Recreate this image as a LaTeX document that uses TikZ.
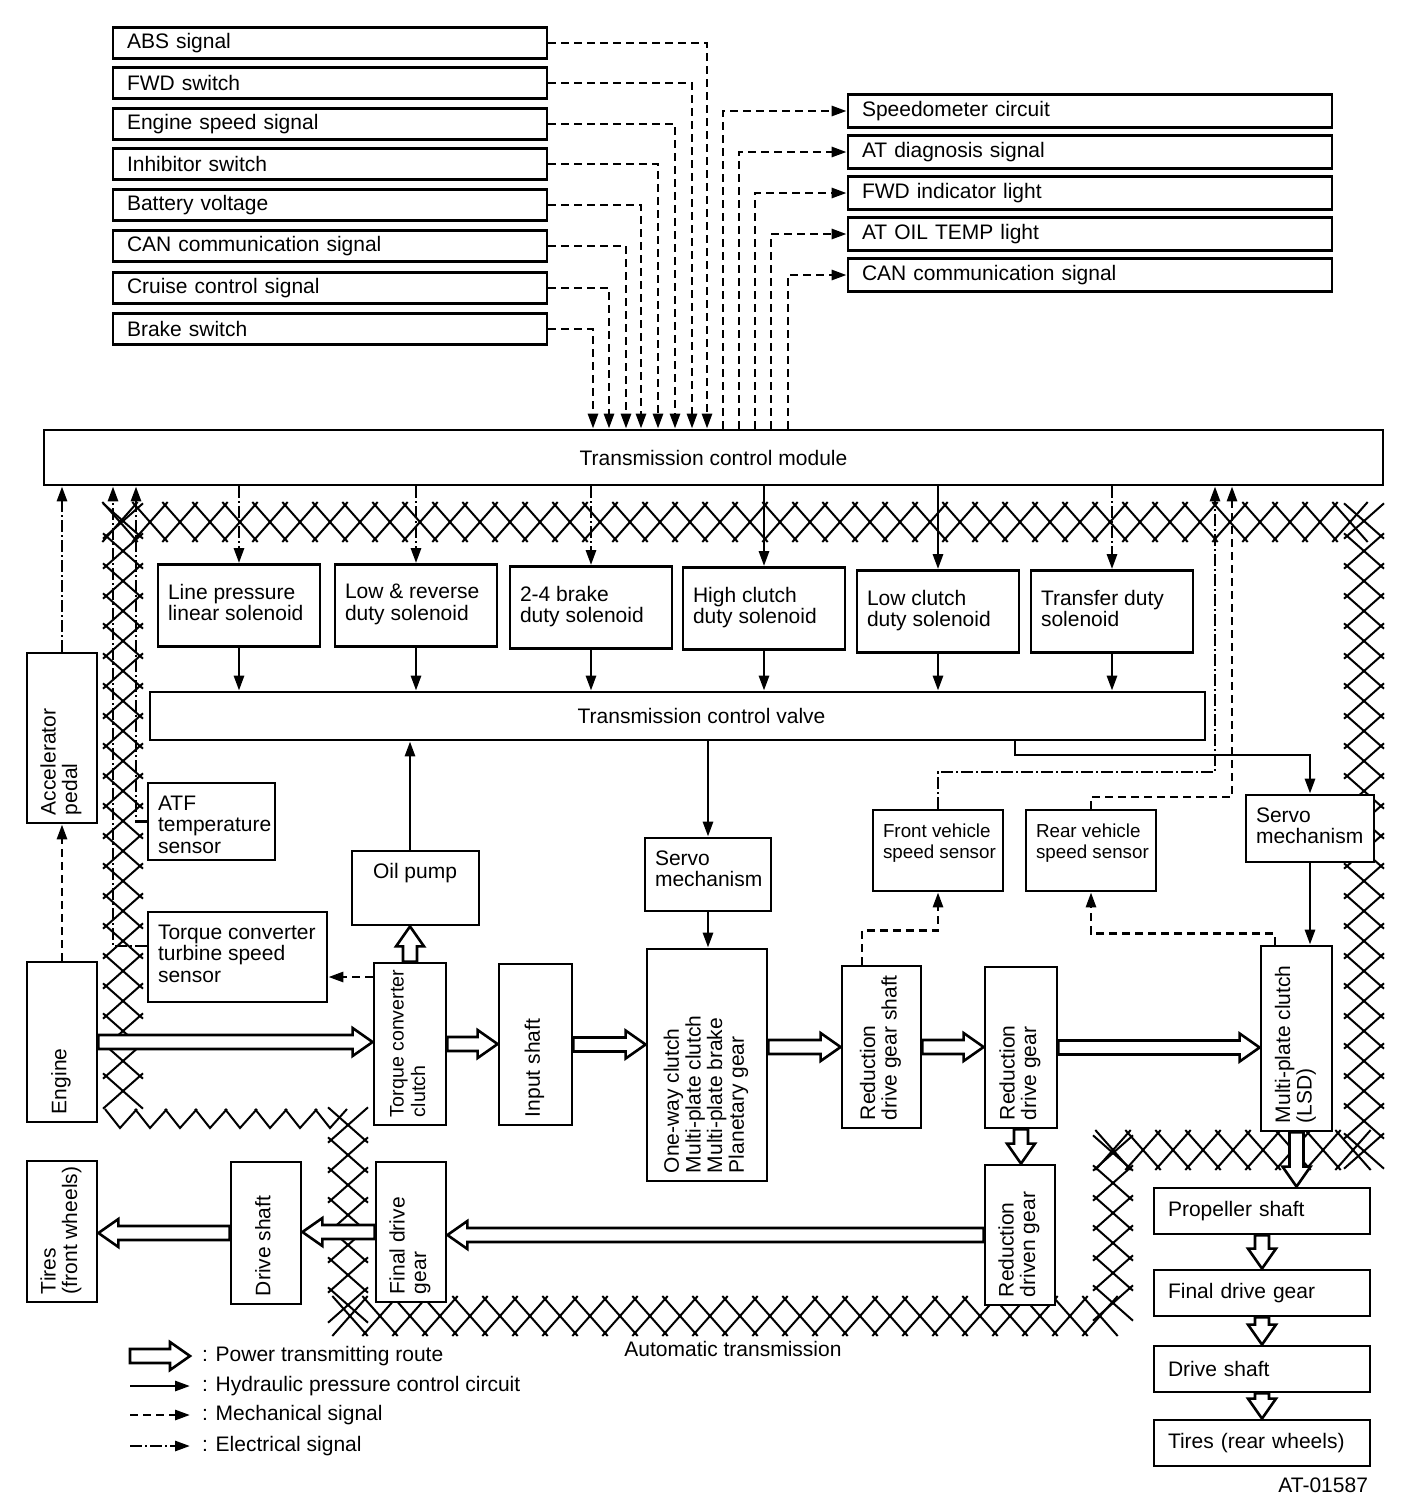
\documentclass[tikz,border=0pt]{standalone}
\usepackage{fontspec}
\setmainfont{Liberation Sans}
\usetikzlibrary{arrows.meta, calc}

\newcommand{\htext}[4][t]{\parbox[c][\dimexpr#3pt/2-12pt\relax][#1]{\dimexpr#2pt/2-10pt\relax}{\begin{tabular}{@{}l@{}}#4\end{tabular}}}
\newcommand{\vtext}[3]{\rotatebox{90}{\parbox[c][\dimexpr#1pt/2-8pt\relax][c]{\dimexpr#2pt/2-8pt\relax}{\begin{tabular}{@{}l@{}}#3\end{tabular}}}}
\newcommand{\powerarrow}[2]{%
  \path (#1) coordinate (pa) (#2) coordinate (pb);
  \path ($(pb)!10pt!(pa)$) coordinate (pn);
  \filldraw[power] ($(pa)!3.5pt!90:(pb)$) -- ($(pn)!3.5pt!-90:(pa)$)
    -- ($(pn)!7pt!-90:(pa)$) -- (pb) -- ($(pn)!7pt!90:(pa)$)
    -- ($(pn)!3.5pt!90:(pa)$) -- ($(pa)!3.5pt!-90:(pb)$) -- cycle;}
% crossed band of the housing: start, count, position
\newcommand{\hband}[3]{%
  \foreach \i in {0,...,#2}
    \draw[hatch] ({#1+30*\i-2.7},#3-20) -- ({#1+30*\i+32.7},#3+20)
                 ({#1+30*\i-2.7},#3+20) -- ({#1+30*\i+32.7},#3-20);}
\newcommand{\vband}[3]{%
  \foreach \i in {0,...,#2}
    \draw[hatch] (#3-20,{#1+30*\i-2.7}) -- (#3+20,{#1+30*\i+32.7})
                 (#3+20,{#1+30*\i-2.7}) -- (#3-20,{#1+30*\i+32.7});}

\tikzset{
  tbox/.style={draw, line width=1.4pt, fill=white, inner xsep=5pt, inner ysep=6pt},
  vbox/.style={tbox, inner sep=4pt},
  sensorfont/.style={font=\fontsize{9.4}{10.8}\selectfont},
  insig/.style={tbox, text width=203pt, minimum height=15.5pt, inner xsep=7pt, inner ysep=1pt, align=left},
  outsig/.style={insig, text width=228pt, minimum height=16.5pt},
  chainbox/.style={insig, text width=94pt, minimum height=23pt},
  hyd/.style={line width=1.4pt, ->},
  mech/.style={hyd, dash pattern=on 4pt off 2.5pt},
  elec/.style={hyd, dash pattern=on 6pt off 1.5pt on 1pt off 1.5pt},
  power/.style={draw, line width=1.3pt, fill=white, line join=miter},
  hatch/.style={line width=1pt},
}

\begin{document}
\begin{tikzpicture}[x=0.5pt, y=-0.5pt, font=\fontsize{10.5}{10.8}\selectfont, >={Triangle[length=7.5pt,width=5pt]}]
  \useasboundingbox (0,0) rectangle (1408,1500);

  % housing of the automatic transmission
  \hband{105}{41}{522}
  \hband{335}{25}{1316}
  \hband{1098}{8}{1150}
  \vband{506}{19}{123}
  \vband{1110}{6}{348}
  \vband{1138}{5}{1113}
  \vband{506}{21}{1364}
  \foreach \i in {0,...,7}
    \draw[hatch] ({105+30*\i},1109) -- ({120+30*\i},1128) -- ({137+30*\i},1109);

  % inputs and outputs of the control module
  \foreach \n/\y/\t in {1/43/ABS signal, 2/83/FWD switch, 3/124/Engine speed signal, 4/164/Inhibitor switch,
      5/205/Battery voltage, 6/246/CAN communication signal, 7/288/Cruise control signal, 8/329/Brake switch}
    \node[insig] (in\n) at (330,\y) {\t};
  \foreach \n/\y/\t in {1/111/Speedometer circuit, 2/152/AT diagnosis signal, 3/193/FWD indicator light,
      4/234/AT OIL TEMP light, 5/275/CAN communication signal}
    \node[outsig] (out\n) at (1090,\y) {\t};

  \node[tbox, minimum width=669.5pt, minimum height=27.5pt] (tcm) at (713.5,457.5) {Transmission control module};
  \node[tbox, minimum width=527.5pt, minimum height=24pt] (valve) at (677.5,716) {\hspace*{24pt}Transmission control valve};

  \foreach \n/\x/\y/\t in {1/239/605.5/{Line pressure\\linear solenoid}, 2/416/605.5/{Low \& reverse\\duty solenoid},
      3/591/607.5/{2-4 brake\\duty solenoid}, 4/764/608.5/{High clutch\\duty solenoid},
      5/938/611.5/{Low clutch\\duty solenoid}, 6/1112/611.5/{Transfer duty\\solenoid}}
    \node[tbox] (sol\n) at (\x,\y) {\htext[c]{162}{82}{\t}};

  \node[vbox] (acc) at (62,738) {\vtext{70}{170}{Accelerator\\pedal}};
  \node[vbox] (engine) at (62,1042) {\vtext{70}{160}{Engine}};
  \node[tbox] (atf) at (211.5,821.5) {\htext{127}{77}{ATF\\temperature\\sensor}};
  \node[tbox] (tts) at (237.5,957) {\htext{179}{90}{Torque converter\\turbine speed\\sensor}};
  \node[tbox] (pump) at (415.5,888) {\htext{127}{74}{\hspace*{5.5pt}Oil pump}};
  \node[tbox] (servo1) at (708,874.5) {\htext{126}{73}{Servo\\mechanism}};
  \node[tbox, sensorfont] (fvss) at (938,850.5) {\htext{130}{81}{Front vehicle\\speed sensor}};
  \node[tbox, sensorfont] (rvss) at (1091,850.5) {\htext{130}{81}{Rear vehicle\\speed sensor}};
  \node[tbox] (servo2) at (1310,828.5) {\htext{128}{67}{Servo\\mechanism}};

  \node[vbox, font=\fontsize{9.8}{10.8}\selectfont] (tcc) at (410,1044) {\vtext{72}{162}{Torque converter\\clutch}};
  \node[vbox] (input) at (535.5,1044.5) {\vtext{73}{161}{Input shaft}};
  \node[vbox] (planet) at (707,1065) {\vtext{120}{232}{One-way clutch\\Multi-plate clutch\\Multi-plate brake\\Planetary gear}};
  \node[vbox] (rdgs) at (881.5,1047) {\vtext{79}{162}{Reduction\\drive gear shaft}};
  \node[vbox] (rdg) at (1021,1047.5) {\vtext{72}{161}{Reduction\\drive gear}};
  \node[vbox] (lsd) at (1296.5,1038.5) {\vtext{71}{185}{Multi-plate clutch\\(LSD)}};
  \node[vbox] (rdng) at (1020,1235) {\vtext{70}{140}{Reduction\\driven gear}};
  \node[vbox] (fdgl) at (411,1232) {\vtext{70}{140}{Final drive\\gear}};
  \node[vbox] (dsl) at (266,1233) {\vtext{70}{142}{Drive shaft}};
  \node[vbox] (tiresf) at (62,1231.5) {\vtext{70}{141}{Tires\\(front wheels)}};

  \node[chainbox] (prop) at (1262,1211) {Propeller shaft};
  \node[chainbox] (fdgr) at (1262,1293) {Final drive gear};
  \node[chainbox] (dsr) at (1262,1369) {Drive shaft};
  \node[chainbox] (tiresr) at (1262,1443) {Tires (rear wheels)};

  % signal lines
  \foreach \n/\x in {1/707, 2/692, 3/675, 4/658, 5/641, 6/626, 7/609, 8/593}
    \draw[mech] (in\n.east) -| (\x,0 |- tcm.north);
  \foreach \n/\x in {1/723, 2/739, 3/755, 4/771, 5/788}
    \draw[mech] (\x,0 |- tcm.north) |- (out\n.west);
  \foreach \n/\s in {1/elec, 2/elec, 3/elec, 4/hyd, 5/hyd, 6/elec}
    \draw[\s] (tcm.south -| sol\n.north) -- (sol\n.north);
  \foreach \n in {1,...,6}
    \draw[hyd] (sol\n.south) -- (sol\n.south |- valve.north);

  \draw[elec] (acc.north) -- (acc.north |- tcm.south);
  \draw[mech] (engine.north) -- (acc.south);
  \draw[elec] (atf.west) -| (136,0 |- tcm.south);
  \draw[elec] ($(tts.west)+(0,-11)$) -| (113,0 |- tcm.south);
  \draw[mech] (tcc.west |- 0,977) -- (tts.east |- 0,977);

  \draw[hyd] (tcc.north |- pump.north) -- (tcc.north |- valve.south);
  \draw[hyd] (valve.south -| servo1.north) -- (servo1.north);
  \draw[hyd] (servo1.south) -- (servo1.south |- planet.north);
  \draw[hyd] (1015,0 |- valve.south) |- (servo2.north |- 0,755) -- (servo2.north);
  \draw[hyd] (servo2.south) -- (servo2.south |- lsd.north);

  \draw[elec] (fvss.north) |- (1215,772) -- (1215,0 |- tcm.south);
  \draw[mech] (rvss.north) |- (1232,797) -- (1232,0 |- tcm.south);
  \draw[mech] (862,0 |- rdgs.north) |- ($(fvss.south)+(0,38)$) -- (fvss.south);
  \draw[mech] (1275,0 |- lsd.north) |- ($(rvss.south)+(0,41)$) -- (rvss.south);

  % power flow
  \powerarrow{engine.east}{engine.east -| tcc.west}
  \powerarrow{tcc.east}{tcc.east -| input.west}
  \powerarrow{input.east}{input.east -| planet.west}
  \powerarrow{planet.east |- rdgs.west}{rdgs.west}
  \powerarrow{rdgs.east}{rdgs.east -| rdg.west}
  \powerarrow{rdg.east}{rdg.east -| lsd.west}
  \powerarrow{rdg.south}{rdg.south |- rdng.north}
  \powerarrow{rdng.west}{rdng.west -| fdgl.east}
  \powerarrow{fdgl.west}{fdgl.west -| dsl.east}
  \powerarrow{dsl.west}{dsl.west -| tiresf.east}
  \powerarrow{tcc.north}{tcc.north |- pump.south}
  \powerarrow{lsd.south}{lsd.south |- prop.north}
  \powerarrow{prop.south}{fdgr.north}
  \powerarrow{fdgr.south}{dsr.north}
  \powerarrow{dsr.south}{tiresr.north}

  % legend
  \coordinate (lega1) at (130,1356);
  \coordinate (legb1) at (190,1356);
  \powerarrow{lega1}{legb1}
  \foreach \n/\y/\s in {2/1386/hyd, 3/1415/mech, 4/1446/elec} {
    \coordinate (lega\n) at (130,\y);
    \coordinate (legb\n) at (190,\y);
    \draw[\s] (lega\n) -- (legb\n);
  }
  \node[anchor=west] (legt1) at (195,1356) {: Power transmitting route};
  \node[anchor=west] (legt2) at (195,1386) {: Hydraulic pressure control circuit};
  \node[anchor=west] (legt3) at (195,1415) {: Mechanical signal};
  \node[anchor=west] (legt4) at (195,1446) {: Electrical signal};

  \node (atlabel) at (733,1349) {Automatic transmission};
  \node[anchor=east] (figid) at (1375,1485) {AT-01587};
\end{tikzpicture}
\end{document}
